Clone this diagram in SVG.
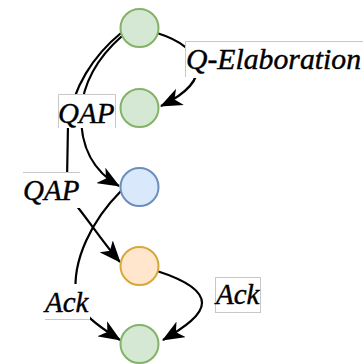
<svg xmlns="http://www.w3.org/2000/svg" width="363" height="364" viewBox="0 0 363 364">
<style>
.node{stroke-width:2}
.green{fill:#d5e8d4;stroke:#82b366}
.blue{fill:#dae8fc;stroke:#6c8ebf}
.orange{fill:#ffe6cc;stroke:#d6a93a}
.edge{fill:none;stroke:#000;stroke-width:2.2}
.arrow{marker-end:url(#arr)}
.bg{fill:#fff}
.frame{fill:none;stroke:#c8c8c8;stroke-width:1}
.lbl{stroke:#000;stroke-width:0.4}
</style>
<defs>
<marker id="arr" markerUnits="userSpaceOnUse" viewBox="0 0 22 18" refX="21" refY="9" markerWidth="22" markerHeight="18" orient="auto">
<path d="M0,0 L22,9 L0,18 L6,9 Z" fill="#000"/>
</marker>
</defs>
<g id="connectors">
<path class="edge arrow" d="M157,33 C 205,48 215,80 161,106"/>
<path class="edge arrow" d="M122,36 C 97,58 83,82 81,112 C 80,150 95,172 119,186"/>
<path class="edge" d="M121,33 C 94,55 72,88 68,125 L 67,180"/>
<path class="edge arrow" d="M72,200 C 90,222 104,244 120,262"/>
<path class="edge arrow" d="M121,191 C 92,220 72,260 76,295 C 78,312 98,326 120,340"/>
<path class="edge arrow" d="M157,271 C 185,280 202,290 202,303 C 202,315 185,327 163,340"/>
</g>
<g font-family="Liberation Serif, Times New Roman, serif" font-style="italic" font-size="29" fill="#000">
<g id="label-qelab">
<rect class="bg" x="185" y="41" width="180" height="37"/>
<polyline class="frame" points="363,41.5 185.5,41.5 185.5,77"/>
<text class="lbl" x="186" y="69" textLength="175" lengthAdjust="spacingAndGlyphs">Q-Elaboration</text>
</g>
<g id="label-qap1">
<rect class="bg" x="58" y="94" width="58" height="34"/>
<polyline class="frame" points="58.5,128 58.5,94.5 115.5,94.5 115.5,128"/>
<text class="lbl" x="58" y="123">QAP</text>
</g>
<g id="label-qap2">
<rect class="bg" x="23" y="172" width="57" height="36"/>
<line class="frame" x1="23" y1="172.5" x2="80" y2="172.5"/>
<text class="lbl" x="23" y="200">QAP</text>
</g>
<g id="label-ack1">
<rect class="bg" x="45" y="284" width="45" height="35"/>
<line class="frame" x1="45" y1="319.5" x2="90" y2="319.5"/>
<text class="lbl" x="45" y="312">Ack</text>
</g>
<g id="label-ack2">
<rect class="bg" x="215" y="277" width="46" height="36"/>
<rect class="frame" x="215.5" y="277.5" width="45" height="35"/>
<text class="lbl" x="216" y="304">Ack</text>
</g>
</g>
<g id="n1"><circle class="node green" cx="139.5" cy="28" r="19"/></g>
<g id="n2"><circle class="node green" cx="139.5" cy="108" r="19"/></g>
<g id="n3"><circle class="node blue" cx="139.5" cy="187" r="19"/></g>
<g id="n4"><circle class="node orange" cx="139.5" cy="266" r="19"/></g>
<g id="n5"><circle class="node green" cx="139.5" cy="344" r="19"/></g>
</svg>
